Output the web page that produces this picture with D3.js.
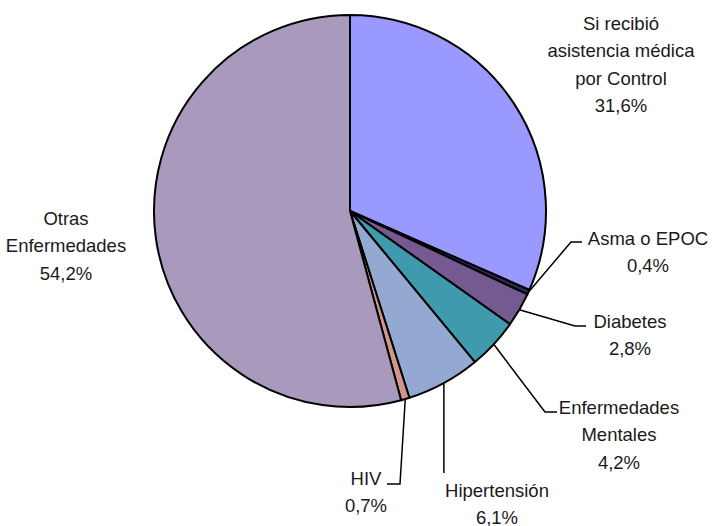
<!doctype html>
<html>
  <head>
    <meta charset="utf-8">
    <title>Asistencia médica</title>
    <script src="https://cdnjs.cloudflare.com/ajax/libs/d3/7.8.5/d3.min.js"></script>
    <style>
      body { margin: 0; background: #fff; }
      text { font-family: "Liberation Sans", Arial, sans-serif; font-size: 18.5px; fill: #1a1a1a; }
    </style>
  </head>
  <body>
    <svg id="chart" width="716" height="526"></svg>
    <script>
      // data
      var categories = ["Si recibió asistencia médica por Control", "Asma o EPOC", "Diabetes",
                        "Enfermedades Mentales", "Hipertensión", "HIV", "Otras Enfermedades"];
      var values = [31.6, 0.4, 2.8, 4.2, 6.1, 0.7, 54.2];
      var labelLines = [["Si recibió", "asistencia médica", "por Control"], ["Asma o EPOC"], ["Diabetes"],
                        ["Enfermedades", "Mentales"], ["Hipertensión"], ["HIV"], ["Otras", "Enfermedades"]];
      var colors = ["#9999ff", "#2b2b55", "#755a91", "#3f9aae", "#93a9d1", "#d4958f", "#a99abd"];

      // label placement (x, first baseline, leader bends)
      var labelPos = [
        {x: 621, y: 30,  leader: null},
        {x: 648, y: 245, leader: [[571, 242], [582, 242]]},
        {x: 630, y: 328, leader: [[575, 326], [586, 326]]},
        {x: 619, y: 414, leader: [[545, 412], [557, 412]]},
        {x: 497, y: 497, leader: [[null, 473]]},
        {x: 366, y: 485, leader: [[400, 484], [387, 484]]},
        {x: 66,  y: 225, leader: null}
      ];

      var cx = 350, cy = 211, r = 196;
      var svg = d3.select("#chart");
      var g = svg.append("g").attr("transform", "translate(" + cx + "," + cy + ")");

      var pie = d3.pie().sort(null).value(d => d);
      var arcs = pie(values);
      var arc = d3.arc().innerRadius(0).outerRadius(r);
      var edge = d3.arc().innerRadius(r).outerRadius(r);

      g.selectAll("path")
        .data(arcs)
        .enter()
        .append("path")
        .attr("d", arc)
        .attr("fill", (d, i) => colors[i])
        .attr("stroke", "#000")
        .attr("stroke-width", 2)
        .attr("stroke-linejoin", "round");

      var fmt = v => d3.format(".1f")(v).replace(".", ",") + "%";

      arcs.forEach(function(a, i) {
        var p = labelPos[i];
        if (p.leader) {
          var c = edge.centroid(a);
          var start = [cx + c[0], cy + c[1]];
          var pts = [start].concat(p.leader.map(q => [q[0] === null ? start[0] : q[0], q[1]]));
          svg.append("path")
            .attr("d", d3.line()(pts))
            .attr("fill", "none")
            .attr("stroke", "#000")
            .attr("stroke-width", 1.5);
        }
        var lines = labelLines[i].concat([fmt(values[i])]);
        svg.append("g").selectAll("text")
          .data(lines)
          .enter()
          .append("text")
          .attr("x", p.x)
          .attr("y", (d, k) => p.y + k * 27.3)
          .attr("text-anchor", "middle")
          .text(d => d);
      });
    </script>
  </body>
</html>
